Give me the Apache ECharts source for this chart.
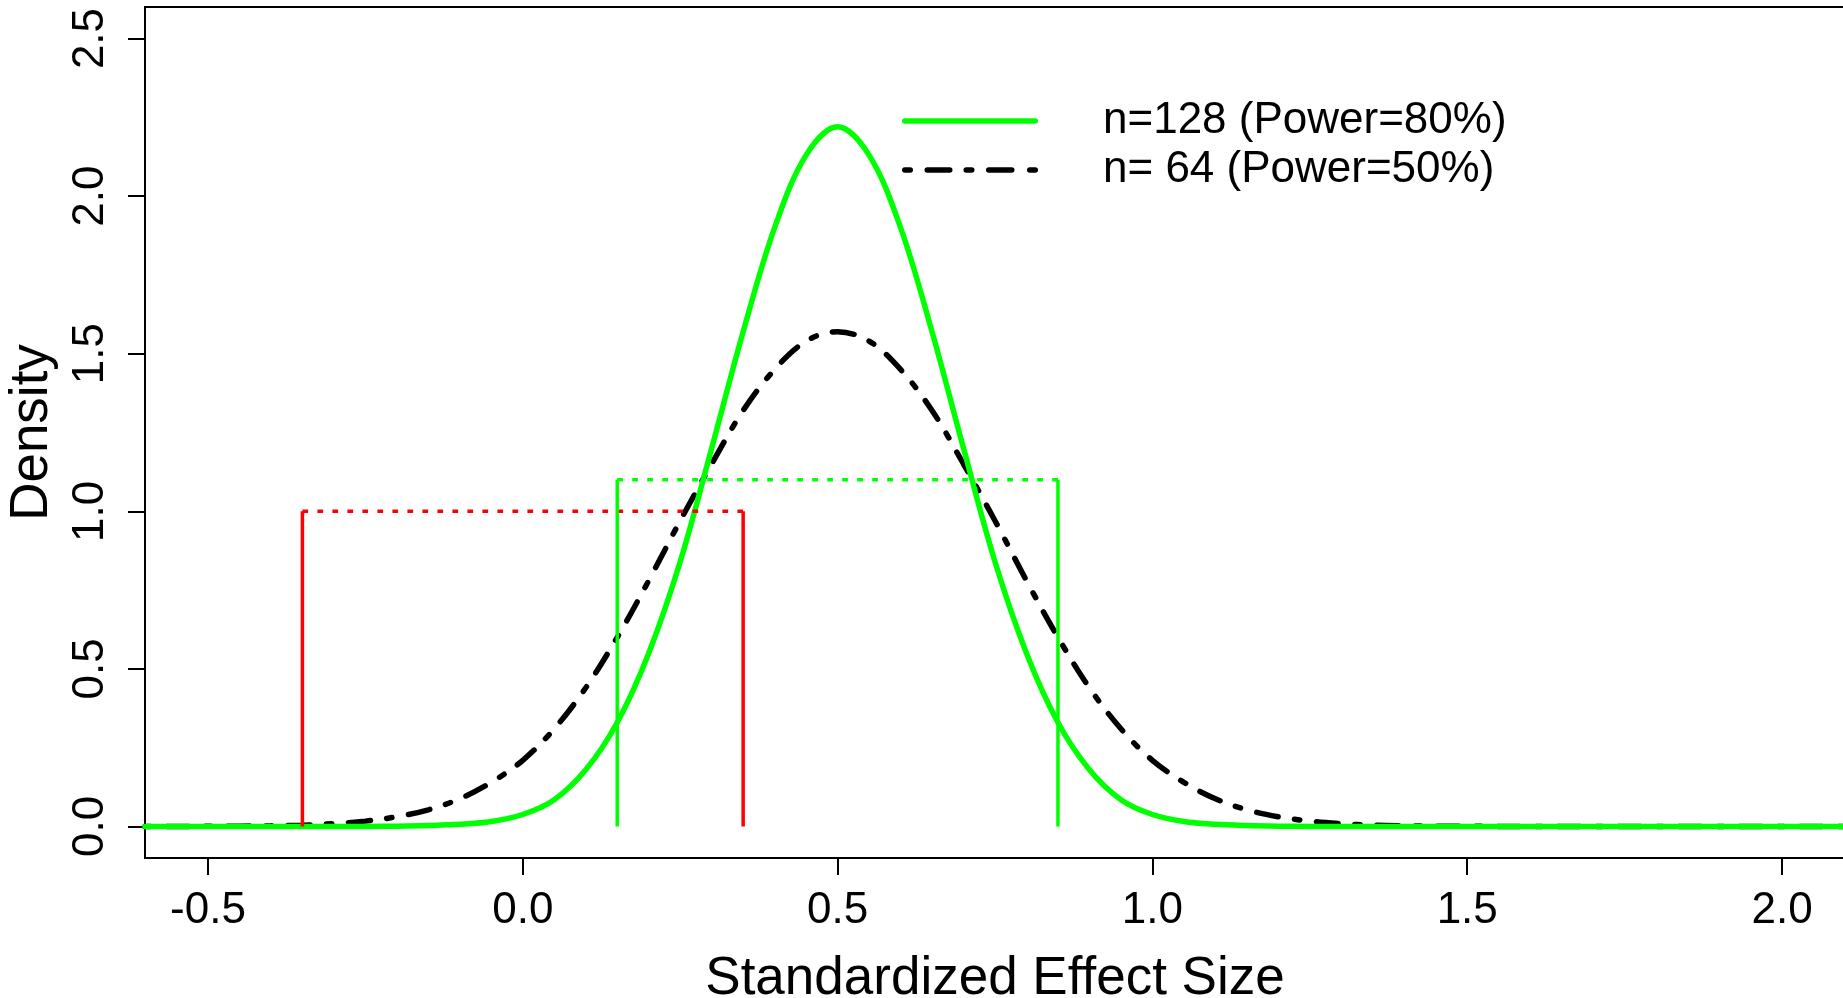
<!DOCTYPE html>
<html>
<head>
<meta charset="utf-8">
<script src="https://cdn.jsdelivr.net/npm/echarts@6/dist/echarts.min.js"></script>
<style>
html,body{margin:0;padding:0;background:#fff;}
#chart{width:1843px;height:998px;}
</style>
</head>
<body>
<div id="chart"></div>
<script>
// ---- data ----
const xGrid = [-0.6,-0.55,-0.5,-0.45,-0.4,-0.35,-0.3,-0.25,-0.2,-0.15,-0.1,-0.05,0,0.05,0.1,0.15,0.2,0.25,0.3,0.35,0.4,0.45,0.5,0.55,0.6,0.65,0.7,0.75,0.8,0.85,0.9,0.95,1,1.05,1.1,1.15,1.2,1.25,1.3,1.35,1.4,1.45,1.5,1.55,1.6,1.65,1.7,1.75,1.8,1.85,1.9,1.95,2,2.05,2.1];
const density128 = [0,0,0,0,0,0,0,0.0003,0.001,0.003,0.007,0.016,0.038,0.085,0.18,0.33,0.55,0.84,1.20,1.57,1.90,2.13,2.22,2.13,1.90,1.57,1.20,0.84,0.55,0.33,0.18,0.085,0.038,0.016,0.007,0.003,0.001,0.0003,0,0,0,0,0,0,0,0,0,0,0,0,0,0,0,0,0];
const density64 = [0.0001,0.0002,0.0005,0.001,0.002,0.004,0.009,0.017,0.031,0.053,0.088,0.14,0.21,0.31,0.44,0.60,0.78,0.97,1.15,1.32,1.45,1.54,1.57,1.54,1.45,1.32,1.15,0.97,0.78,0.60,0.44,0.31,0.21,0.14,0.088,0.053,0.031,0.017,0.009,0.004,0.002,0.001,0.0005,0.0002,0.0001,0,0,0,0,0,0,0,0,0,0];
const redInterval = [-0.35, 0.35];
const redHeight = 1.0;
const greenInterval = [0.15, 0.85];
const greenHeight = 1.1;
const xTicks = [-0.5, 0, 0.5, 1.0, 1.5, 2.0];
const yTicks = [0, 0.5, 1.0, 1.5, 2.0, 2.5];
const seriesNames = ['n=128 (Power=80%)', 'n= 64 (Power=50%)'];

const FONT = '"Liberation Sans", Arial, Helvetica, sans-serif';
const GREEN = '#00ff00', RED = '#ff0000';

function pairs(xs, ys){ return xs.map((x,i)=>[x, ys[i]]); }
function seg(a, b, color, dash){
  return {type:'line', data:[a,b], symbol:'none', silent:true, animation:false, z:4,
    lineStyle:{color:color, width:3.5, type:dash||'solid', cap:'butt'}};
}
// rounded bar path (legend icon pieces), height h
function bar(x0, x1, h){
  const r = h/2;
  return 'M'+(x0+r)+' 0L'+(x1-r)+' 0A'+r+' '+r+' 0 0 1 '+(x1-r)+' '+h+'L'+(x0+r)+' '+h+'A'+r+' '+r+' 0 0 1 '+(x0+r)+' 0Z';
}
const H = 5.5;
const greenIcon = 'path://' + bar(0, 136, H);
const blackIcon = 'path://' + [[0,11],[22.5,50.5],[61.5,72.5],[84,112.5],[125,136]].map(p=>bar(p[0],p[1],H)).join('');

const series = [
  {name: seriesNames[1], type:'line', data: pairs(xGrid, density64), symbol:'none', smooth:0.35,
   animation:false, z:2, itemStyle:{color:'#000'},
   lineStyle:{color:'#000', width:5.5, type:[5.5,16.5,22,16.5], cap:'round'}},
  seg([redInterval[0],0],[redInterval[0],redHeight], RED),
  seg([redInterval[1],0],[redInterval[1],redHeight], RED),
  seg([redInterval[0],redHeight],[redInterval[1],redHeight], RED, [5.7,9.3]),
  {name: seriesNames[0], type:'line', data: pairs(xGrid, density128), symbol:'none', smooth:0.35,
   animation:false, z:3, itemStyle:{color:GREEN},
   lineStyle:{color:GREEN, width:5.5, type:'solid', cap:'round'}},
  seg([greenInterval[0],0],[greenInterval[0],greenHeight], GREEN),
  seg([greenInterval[1],0],[greenInterval[1],greenHeight], GREEN),
  seg([greenInterval[0],greenHeight],[greenInterval[1],greenHeight], GREEN, [5.7,9.3])
];

const chart = echarts.init(document.getElementById('chart'), null, {renderer:'canvas'});
chart.setOption({
  backgroundColor:'#ffffff',
  animation:false,
  grid:{left:145, right:-2, top:7, bottom:140, containLabel:false, outerBoundsMode:'none',
    show:true, borderColor:'#000', borderWidth:2, backgroundColor:'transparent'},
  legend:{
    data: [
      {name: seriesNames[0], icon: greenIcon, itemStyle:{color:GREEN}},
      {name: seriesNames[1], icon: blackIcon, itemStyle:{color:'#000'}}
    ],
    orient:'vertical', left:902, top:99, padding:0,
    itemWidth:136, itemHeight:H, itemGap:5,
    textStyle:{fontFamily:FONT, fontSize:44, color:'#000', padding:[0,0,0,60]},
    selectedMode:false
  },
  xAxis:{
    type:'value', min:-0.6, max:2.1,
    name:'Standardized Effect Size', nameLocation:'middle', nameGap:95,
    nameTextStyle:{fontFamily:FONT, fontSize:53, color:'#000'},
    axisLine:{show:false, onZero:false},
    axisTick:{show:true, length:17, lineStyle:{color:'#000', width:2}, customValues:xTicks},
    axisLabel:{fontFamily:FONT, fontSize:44, color:'#000', margin:31, customValues:xTicks,
      formatter:v=>v.toFixed(1)},
    splitLine:{show:false}
  },
  yAxis:{
    type:'value', min:-0.1, max:2.6,
    name:'Density', nameLocation:'middle', nameGap:86,
    nameTextStyle:{fontFamily:FONT, fontSize:53, color:'#000'},
    axisLine:{show:false, onZero:false},
    axisTick:{show:true, length:17, lineStyle:{color:'#000', width:2}, customValues:yTicks},
    axisLabel:{fontFamily:FONT, fontSize:44, color:'#000', margin:32, rotate:90, customValues:yTicks,
      formatter:v=>v.toFixed(1)},
    splitLine:{show:false}
  },
  series: series
});
</script>
</body>
</html>
